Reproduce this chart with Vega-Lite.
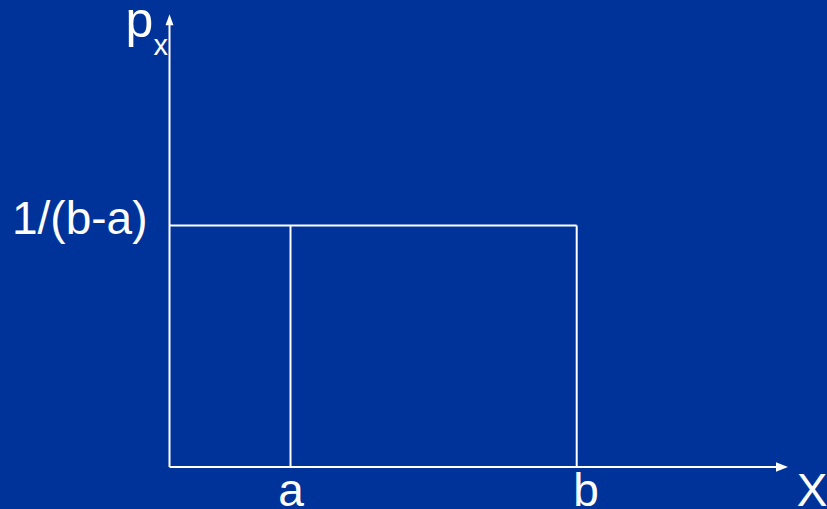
{
  "$schema": "https://vega.github.io/schema/vega-lite/v6.json",
  "width": 827,
  "height": 509,
  "padding": 0,
  "autosize": {"type": "none"},
  "background": "#003399",
  "config": {"view": {"stroke": null}},
  "datasets": {
    "segments": [
      {"x1": 0, "y1": 0, "x2": 0, "y2": 44.5},
      {"x1": 0, "y1": 0, "x2": 61.0, "y2": 0},
      {"x1": 0, "y1": 24.15, "x2": 40.72, "y2": 24.15},
      {"x1": 12.1, "y1": 0, "x2": 12.1, "y2": 24.15},
      {"x1": 40.72, "y1": 0, "x2": 40.72, "y2": 24.15}
    ],
    "arrowUp": [{"x": 0, "y": 44.73}],
    "arrowRight": [{"x": 61.25, "y": 0}],
    "bigLabels": [
      {"x": 12.15, "y": -3.9, "label": "a"},
      {"x": 41.65, "y": -3.9, "label": "b"},
      {"x": 64.25, "y": -3.9, "label": "X"}
    ],
    "leftLabels": [
      {"x": -15.75, "y": 23.3, "label": "1/(b-a)"}
    ],
    "pLabel": [{"x": -4.4, "y": 43.0, "label": "p"}],
    "subLabel": [{"x": -1.6, "y": 41.2, "label": "x"}]
  },
  "layer": [
    {
      "data": {"name": "segments"},
      "mark": {"type": "rule", "color": "white", "strokeWidth": 2},
      "encoding": {
        "x": {"field": "x1", "type": "quantitative", "scale": {"domain": [-16.95, 65.75], "nice": false, "zero": false}, "axis": null},
        "x2": {"field": "x2"},
        "y": {"field": "y1", "type": "quantitative", "scale": {"domain": [-4.2, 46.7], "nice": false, "zero": false}, "axis": null},
        "y2": {"field": "y2"}
      }
    },
    {
      "data": {"name": "arrowUp"},
      "mark": {"type": "point", "shape": "M-0.72,1L0,-1L0.72,1Z", "size": 121, "filled": true, "color": "white", "opacity": 1},
      "encoding": {
        "x": {"field": "x", "type": "quantitative"},
        "y": {"field": "y", "type": "quantitative"}
      }
    },
    {
      "data": {"name": "arrowRight"},
      "mark": {"type": "point", "shape": "M-1,-0.8L1,0L-1,0.8Z", "size": 144, "filled": true, "color": "white", "opacity": 1},
      "encoding": {
        "x": {"field": "x", "type": "quantitative"},
        "y": {"field": "y", "type": "quantitative"}
      }
    },
    {
      "data": {"name": "bigLabels"},
      "mark": {"type": "text", "font": "Liberation Sans", "fontSize": 46, "color": "white", "align": "center", "baseline": "alphabetic"},
      "encoding": {
        "x": {"field": "x", "type": "quantitative"},
        "y": {"field": "y", "type": "quantitative"},
        "text": {"field": "label"}
      }
    },
    {
      "data": {"name": "leftLabels"},
      "mark": {"type": "text", "font": "Liberation Sans", "fontSize": 46, "color": "white", "align": "left", "baseline": "alphabetic"},
      "encoding": {
        "x": {"field": "x", "type": "quantitative"},
        "y": {"field": "y", "type": "quantitative"},
        "text": {"field": "label"}
      }
    },
    {
      "data": {"name": "pLabel"},
      "mark": {"type": "text", "font": "Liberation Sans Narrow, Liberation Sans", "fontSize": 50, "color": "white", "align": "left", "baseline": "alphabetic"},
      "encoding": {
        "x": {"field": "x", "type": "quantitative"},
        "y": {"field": "y", "type": "quantitative"},
        "text": {"field": "label"}
      }
    },
    {
      "data": {"name": "subLabel"},
      "mark": {"type": "text", "font": "Liberation Sans", "fontSize": 29, "color": "white", "align": "left", "baseline": "alphabetic"},
      "encoding": {
        "x": {"field": "x", "type": "quantitative"},
        "y": {"field": "y", "type": "quantitative"},
        "text": {"field": "label"}
      }
    }
  ]
}
